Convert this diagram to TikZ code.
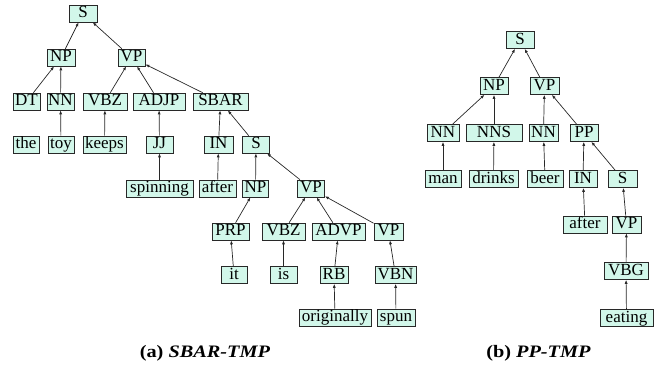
\documentclass[tikz,border=0pt]{standalone}
\usepackage{fontspec}
\setmainfont{Liberation Serif}
\usetikzlibrary{arrows.meta}
\definecolor{boxfill}{RGB}{210,247,234}
\definecolor{linec}{RGB}{40,40,40}
\tikzset{
  tn/.style={draw=linec, line width=0.8pt, fill=boxfill, inner xsep=1pt, inner ysep=0.8pt,
    text height=11.6pt, text depth=3.6pt, font=\fontsize{17}{20}\selectfont, minimum width=#1},
  tn/.default=27pt,
  ed/.style={draw=linec, line width=0.7pt, -{Latex[length=4pt,width=3pt]}},
  captext/.style={font=\fontsize{17.5}{20}\selectfont\bfseries}
}
\begin{document}
\begin{tikzpicture}[x=1pt,y=-1pt]
\useasboundingbox (0,0) rectangle (665,373);
% ---------- left tree ----------
\node[tn=28pt] (aS0) at (83,13.5) {S};
\node[tn=28pt] (aNP1) at (61,57.5) {NP};
\node[tn=27pt] (aVP1) at (131.5,57.5) {VP};
\node[tn=27pt] (aDT) at (26.5,101.5) {DT};
\node[tn=27pt] (aNN1) at (60.5,101.5) {NN};
\node[tn=44pt] (aVBZ1) at (105,101.5) {VBZ};
\node[tn=52pt] (aADJP) at (159,101.5) {ADJP};
\node[tn=55pt] (aSBAR) at (220.5,101.5) {SBAR};
\node[tn=26pt] (athe) at (26,144.5) {the};
\node[tn=26pt] (atoy) at (61,144.5) {toy};
\node[tn=43pt] (akeeps) at (104.5,144.5) {keeps};
\node[tn=27pt] (aJJ) at (159.5,144.5) {JJ};
\node[tn=29pt] (aIN1) at (218.5,144.5) {IN};
\node[tn=27pt] (aS1) at (256,144.5) {S};
\node[tn=67pt] (aspinning) at (159.5,188.5) {spinning};
\node[tn=37pt] (aafter) at (217.5,188.5) {after};
\node[tn=26pt] (aNP2) at (255.5,188.5) {NP};
\node[tn=27pt] (aVP2) at (311,188.5) {VP};
\node[tn=37pt] (aPRP) at (230.5,231.5) {PRP};
\node[tn=43pt] (aVBZ2) at (283.5,231.5) {VBZ};
\node[tn=53pt] (aADVP) at (338.5,231.5) {ADVP};
\node[tn=29pt] (aVP3) at (388.5,231.5) {VP};
\node[tn=26pt] (ait) at (234,275) {it};
\node[tn=27pt] (ais) at (283.5,275) {is};
\node[tn=28pt] (aRB) at (334,275) {RB};
\node[tn=41pt] (aVBN) at (395.5,275) {VBN};
\node[tn=72pt] (aorig) at (335,317.5) {originally};
\node[tn=38pt] (aspun) at (396,317.5) {spun};
\draw[ed] (aNP1) -- (aS0);
\draw[ed] (aVP1) -- (aS0);
\draw[ed] (aDT) -- (aNP1);
\draw[ed] (aNN1) -- (aNP1);
\draw[ed] (aVBZ1) -- (aVP1);
\draw[ed] (aADJP) -- (aVP1);
\draw[ed] (aSBAR) -- (aVP1);
\draw[ed] (atoy) -- (aNN1);
\draw[ed] (akeeps) -- (aVBZ1);
\draw[ed] (aJJ) -- (aADJP);
\draw[ed] (aIN1) -- (aSBAR);
\draw[ed] (aS1) -- (aSBAR);
\draw[ed] (aspinning) -- (aJJ);
\draw[ed] (aafter) -- (aIN1);
\draw[ed] (aNP2) -- (aS1);
\draw[ed] (aVP2) -- (aS1);
\draw[ed] (aPRP) -- (aNP2);
\draw[ed] (aVBZ2) -- (aVP2);
\draw[ed] (aADVP) -- (aVP2);
\draw[ed] (aVP3) -- (aVP2);
\draw[ed] (ait) -- (aPRP);
\draw[ed] (ais) -- (aVBZ2);
\draw[ed] (aRB) -- (aADVP);
\draw[ed] (aVBN) -- (aVP3);
\draw[ed] (aorig) -- (aRB);
\draw[ed] (aspun) -- (aVBN);
% ---------- right tree ----------
\node[tn=28pt] (bS0) at (520,40) {S};
\node[tn=28pt] (bNP) at (494,86) {NP};
\node[tn=29pt] (bVP) at (544.5,86) {VP};
\node[tn=32pt] (bNN1) at (443,133) {NN};
\node[tn=56pt] (bNNS) at (494,133) {NNS};
\node[tn=29pt] (bNN2) at (543.5,133) {NN};
\node[tn=28pt] (bPP) at (584,133) {PP};
\node[tn=36pt] (bman) at (443,179) {man};
\node[tn=49pt] (bdrinks) at (493.5,179) {drinks};
\node[tn=36pt] (bbeer) at (545,179) {beer};
\node[tn=28pt] (bIN) at (583,179) {IN};
\node[tn=29pt] (bS1) at (622.5,179) {S};
\node[tn=44pt] (bafter) at (585,224.5) {after};
\node[tn=29pt] (bVP2) at (626.5,224.5) {VP};
\node[tn=44pt] (bVBG) at (626,271) {VBG};
\node[tn=53pt] (beating) at (626.5,318) {eating};
\draw[ed] (bNP) -- (bS0);
\draw[ed] (bVP) -- (bS0);
\draw[ed] (bNN1) -- (bNP);
\draw[ed] (bNNS) -- (bNP);
\draw[ed] (bNN2) -- (bVP);
\draw[ed] (bPP) -- (bVP);
\draw[ed] (bman) -- (bNN1);
\draw[ed] (bdrinks) -- (bNNS);
\draw[ed] (bbeer) -- (bNN2);
\draw[ed] (bIN) -- (bPP);
\draw[ed] (bS1) -- (bPP);
\draw[ed] (bafter) -- (bIN);
\draw[ed] (bVP2) -- (bS1);
\draw[ed] (bVBG) -- (bVP2);
\draw[ed] (beating) -- (bVBG);
% ---------- captions ----------
\node[captext] (capa) at (205,353) {\scalebox{1.16}[1]{(a) \textit{SBAR-TMP}}};
\node[captext] (capb) at (538.5,353) {\scalebox{1.16}[1]{(b) \textit{PP-TMP}}};
\end{tikzpicture}
\end{document}
